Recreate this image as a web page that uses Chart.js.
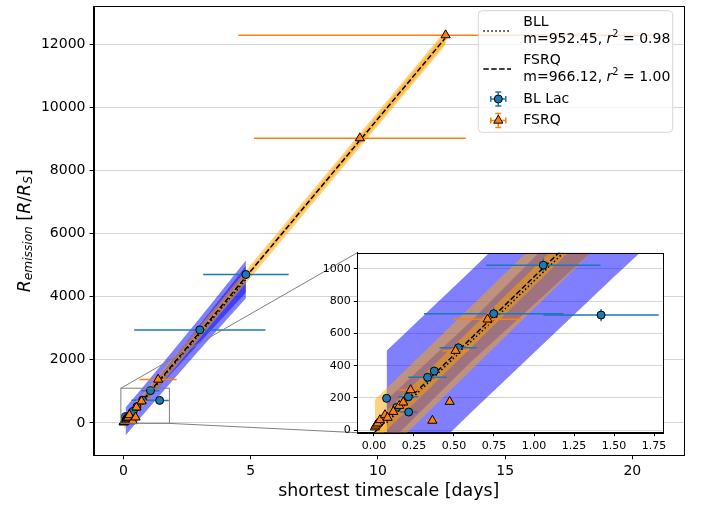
<!DOCTYPE html>
<html><head><meta charset="utf-8">
<script src="https://cdn.jsdelivr.net/npm/chart.js@4"></script>
<style>
html,body{margin:0;padding:0;background:#fff;}
#wrap{position:relative;width:701px;height:506px;overflow:hidden;}
#main{position:absolute;left:0;top:0;}
#inset{position:absolute;left:320px;top:244px;}
</style></head><body>
<div id="wrap"><canvas id="main" width="701" height="506"></canvas><canvas id="inset" width="370" height="222"></canvas></div>
<script>
// ---------------- data ----------------
const bllX    = [0.079, 0.142, 0.215, 0.217, 0.335, 0.377, 0.527, 0.748, 1.058, 1.419, 3.00, 4.81];
const bllY    = [198, 142, 208, 113, 328, 367, 511, 722, 1023, 714, 2950, 4705];
const bllXerr = [0.01, 0.03, 0.062, 0.054, 0.12, 0.02, 0.117, 0.435, 0.357, 0.36, 2.58, 1.68];
const bllYerr = [22, 18, 22, 18, 28, 28, 32, 38, 42, 38, 80, 120];

const fsrqX    = [0.006, 0.012, 0.023, 0.0375, 0.069, 0.085, 0.121, 0.158, 0.183, 0.229, 0.365, 0.473, 0.51, 0.71, 1.36, 9.29, 12.66];
const fsrqY    = [19, 30, 43, 64, 95, 78, 115, 152, 173, 249, 60, 177, 493, 687, 1376, 9030, 12296];
const fsrqXerr = [0.005, 0.008, 0.01, 0.012, 0.015, 0.02, 0.025, 0.03, 0.03, 0.075, 0.04, 0.01, 0.083, 0.213, 0.73, 4.16, 8.15];
const fsrqYerr = [8, 10, 10, 12, 14, 12, 15, 18, 20, 25, 15, 20, 30, 40, 60, 120, 150];

const fitNames      = ['BLL', 'FSRQ'];
const fitSlopes     = [952.45, 966.12];
const fitIntercepts = [-28, -16];
const fitR2         = ['0.98', '1.00'];
const fitXStart     = [0.079, 0.006];
const fitXEnd       = [4.81, 12.66];

const bllBandX     = [0.079, 0.6, 1.5, 3.0, 4.81];
const bllPredHalf  = [445, 440, 450, 500, 600];
const bllConfHalf  = [140, 125, 170, 280, 420];
const fsrqBandX    = [0.006, 1.5, 5, 9.29, 12.66];
const fsrqPredHalf = [200, 195, 200, 215, 235];
const fsrqConfHalf = [60, 55, 80, 120, 160];

const mainXTicks  = [0, 5, 10, 15, 20];
const mainYTicks  = [0, 2000, 4000, 6000, 8000, 10000, 12000];
const insetXTicks = [0, 0.25, 0.5, 0.75, 1.0, 1.25, 1.5, 1.75];
const insetYTicks = [0, 200, 400, 600, 800, 1000];
const mainXRange = [-1.18, 22.03], mainYRange = [-1027, 13210];
const insetXRange = [-0.104, 1.804], insetYRange = [-15, 1100];

const seriesNames = ['BL Lac', 'FSRQ'];
const xTitle = 'shortest timescale [days]';

// ---------------- layout constants ----------------
const INSET = {left:357.3, top:252.7, right:662.7, bottom:432.7};
const INSET_CANVAS = {left:320, top:244, width:370, height:222};
const FONT = '"DejaVu Sans", sans-serif';
const C0 = '#1f77b4', C1 = '#ff7f0e';
const BLUE_A = 'rgba(0,0,255,0.5)', ORANGE_A = 'rgba(255,165,0,0.5)';

Chart.defaults.font.family = FONT;
Chart.defaults.color = '#000';

function pts(xs, ys){ return xs.map((x,i)=>({x, y: ys[i]})); }
function edge(xs, k, half, sign){ return xs.map((x,i)=>({x, y: fitSlopes[k]*x + fitIntercepts[k] + sign*half[i]})); }
function fitLine(k){ return [fitXStart[k], fitXEnd[k]].map(x=>({x, y: fitSlopes[k]*x + fitIntercepts[k]})); }
function fixedTicks(list){ return function(scale){ scale.ticks = list.map(v=>({value:v})); }; }
function fixSize(prop, val){
  return function(s){ s[prop] = val; s.paddingTop = 0; s.paddingBottom = 0; s.paddingLeft = 0; s.paddingRight = 0; };
}

function bandPair(xs, k, half, color, order){
  const base = {showLine:true, pointRadius:0, pointHoverRadius:0, borderWidth:0, borderColor:'rgba(0,0,0,0)', tension:0, order, clip:0};
  return [
    Object.assign({}, base, {data: edge(xs, k, half, -1), fill:false}),
    Object.assign({}, base, {data: edge(xs, k, half, +1), fill:'-1', backgroundColor: color})
  ];
}

function buildDatasets(r){
  return [
    ...bandPair(bllBandX, 0, bllPredHalf, BLUE_A, 100),
    ...bandPair(bllBandX, 0, bllConfHalf, BLUE_A, 90),
    ...bandPair(fsrqBandX, 1, fsrqPredHalf, ORANGE_A, 80),
    ...bandPair(fsrqBandX, 1, fsrqConfHalf, ORANGE_A, 70),
    {data: fitLine(0), showLine:true, pointRadius:0, borderColor:'#000', borderWidth:1.5, borderDash:[1.5,2.5], fill:false, order:50, clip:0},
    {data: fitLine(1), showLine:true, pointRadius:0, borderColor:'#000', borderWidth:1.5, borderDash:[5.5,2.4], fill:false, order:49, clip:0},
    {data: pts(bllX, bllY), showLine:false, pointStyle:'circle', pointRadius:r, pointBackgroundColor:C0, pointBorderColor:'#000', pointBorderWidth:1, errX:bllXerr, errY:bllYerr, errColor:C0, order:20, fill:false},
    {data: pts(fsrqX, fsrqY), showLine:false, pointStyle:'triangle', pointRadius:r+1.3, pointBackgroundColor:C1, pointBorderColor:'#000', pointBorderWidth:1, errX:fsrqXerr, errY:fsrqYerr, errColor:C1, order:10, fill:false}
  ];
}

const errorBarPlugin = {
  id:'errbars',
  beforeDatasetDraw(chart, args){
    const ds = chart.data.datasets[args.index];
    if (!ds.errX) return;
    const {ctx, chartArea:a, scales:{x, y}} = chart;
    ctx.save();
    ctx.beginPath(); ctx.rect(a.left, a.top, a.width, a.height); ctx.clip();
    ctx.strokeStyle = ds.errColor; ctx.lineWidth = 1.5;
    ds.data.forEach((p,i)=>{
      const px = x.getPixelForValue(p.x), py = y.getPixelForValue(p.y);
      ctx.beginPath();
      ctx.moveTo(x.getPixelForValue(p.x - ds.errX[i]), py);
      ctx.lineTo(x.getPixelForValue(p.x + ds.errX[i]), py);
      ctx.moveTo(px, y.getPixelForValue(p.y - ds.errY[i]));
      ctx.lineTo(px, y.getPixelForValue(p.y + ds.errY[i]));
      ctx.stroke();
    });
    ctx.restore();
  }
};

const framePlugin = {
  id:'frame',
  afterDraw(chart){
    const {ctx, chartArea:a} = chart;
    ctx.save(); ctx.strokeStyle = '#000'; ctx.lineWidth = 1;
    ctx.strokeRect(Math.round(a.left)+0.5, Math.round(a.top)+0.5, Math.round(a.right)-Math.round(a.left), Math.round(a.bottom)-Math.round(a.top));
    ctx.restore();
  }
};

const whiteBgPlugin = {
  id:'whitebg',
  beforeDraw(chart){
    const {ctx, chartArea:a} = chart;
    ctx.save(); ctx.fillStyle = '#fff'; ctx.fillRect(a.left, a.top, a.width, a.height); ctx.restore();
  }
};

const zoomIndicatorPlugin = {
  id:'zoomind',
  afterDatasetsDraw(chart){
    const {ctx, scales:{x, y}} = chart;
    const l = x.getPixelForValue(insetXRange[0]), r = x.getPixelForValue(insetXRange[1]);
    const t = y.getPixelForValue(insetYRange[1]), b = y.getPixelForValue(insetYRange[0]);
    ctx.save(); ctx.strokeStyle = '#7f7f7f'; ctx.lineWidth = 1;
    ctx.strokeRect(l, t, r-l, b-t);
    ctx.beginPath();
    ctx.moveTo(l, t); ctx.lineTo(INSET.left, INSET.top);
    ctx.moveTo(r, b); ctx.lineTo(INSET.left, INSET.bottom);
    ctx.stroke();
    ctx.restore();
  }
};

function drawRuns(ctx, runs, x, y){
  let cx = x;
  runs.forEach(rn=>{
    ctx.font = rn.f;
    ctx.fillText(rn.t, cx, y + (rn.dy||0));
    cx += ctx.measureText(rn.t).width;
  });
  return cx - x;
}
function runsWidth(ctx, runs){
  let w = 0; runs.forEach(rn=>{ ctx.font = rn.f; w += ctx.measureText(rn.t).width; }); return w;
}

const yTitlePlugin = {
  id:'ytitle',
  afterDraw(chart){
    const {ctx, chartArea:a} = chart;
    const b = 17.4, s = 12.2;
    const runs = [
      {t:'R', f:`italic ${b}px ${FONT}`},
      {t:'emission', f:`italic ${s}px ${FONT}`, dy:4},
      {t:' [', f:`${b}px ${FONT}`},
      {t:'R', f:`italic ${b}px ${FONT}`},
      {t:'/', f:`${b}px ${FONT}`},
      {t:'R', f:`italic ${b}px ${FONT}`},
      {t:'S', f:`italic ${s}px ${FONT}`, dy:4},
      {t:']', f:`${b}px ${FONT}`}
    ];
    ctx.save();
    ctx.translate(25, (a.top + a.bottom)/2);
    ctx.rotate(-Math.PI/2);
    ctx.fillStyle = '#000'; ctx.textBaseline = 'middle'; ctx.textAlign = 'left';
    const w = runsWidth(ctx, runs);
    drawRuns(ctx, runs, -w/2, 0);
    ctx.restore();
  }
};

function drawErrHandle(ctx, cx, cy, color, style){
  ctx.save();
  ctx.strokeStyle = color; ctx.lineWidth = 1.5;
  ctx.beginPath();
  ctx.moveTo(cx-7.5, cy); ctx.lineTo(cx+7.5, cy);
  ctx.moveTo(cx-7.5, cy-3); ctx.lineTo(cx-7.5, cy+3);
  ctx.moveTo(cx+7.5, cy-3); ctx.lineTo(cx+7.5, cy+3);
  ctx.moveTo(cx, cy-7); ctx.lineTo(cx, cy+7);
  ctx.moveTo(cx-3, cy-7); ctx.lineTo(cx+3, cy-7);
  ctx.moveTo(cx-3, cy+7); ctx.lineTo(cx+3, cy+7);
  ctx.stroke();
  ctx.fillStyle = color; ctx.strokeStyle = '#000'; ctx.lineWidth = 1;
  ctx.beginPath();
  if (style === 'circle') ctx.arc(cx, cy, 4, 0, Math.PI*2);
  else { const r = 5.3; ctx.moveTo(cx, cy-r); ctx.lineTo(cx+r*0.866, cy+r*0.5); ctx.lineTo(cx-r*0.866, cy+r*0.5); ctx.closePath(); }
  ctx.fill(); ctx.stroke();
  ctx.restore();
}

const legendPlugin = {
  id:'customLegend',
  afterDraw(chart){
    const ctx = chart.ctx;
    const L = {x:478.3, y:10.7, w:194.4, h:121.6, r:4};
    ctx.save();
    ctx.beginPath();
    ctx.roundRect(L.x, L.y, L.w, L.h, L.r);
    ctx.fillStyle = 'rgba(255,255,255,0.8)'; ctx.fill();
    ctx.strokeStyle = '#d6d6d6'; ctx.lineWidth = 1; ctx.stroke();
    const fs = 14, tx = 523.3;
    ctx.fillStyle = '#000'; ctx.textBaseline = 'middle'; ctx.textAlign = 'left';
    const rows = [[22.5, 39.3, 31], [60.3, 77.1, 69]];
    const dashes = [[1.5,2.5],[5.5,2.4]];
    fitNames.forEach((nm,k)=>{
      const [y1, y2, yh] = rows[k];
      ctx.save(); ctx.strokeStyle = '#000'; ctx.lineWidth = 1.5; ctx.setLineDash(dashes[k]);
      ctx.beginPath(); ctx.moveTo(483.3, yh); ctx.lineTo(511, yh); ctx.stroke(); ctx.restore();
      ctx.font = `${fs}px ${FONT}`; ctx.fillText(nm, tx, y1);
      drawRuns(ctx, [
        {t:`m=${fitSlopes[k].toFixed(2)}, `, f:`${fs}px ${FONT}`},
        {t:'r', f:`italic ${fs}px ${FONT}`},
        {t:'2', f:`${fs*0.7}px ${FONT}`, dy:-5},
        {t:' = ' + fitR2[k], f:`${fs}px ${FONT}`}
      ], tx, y2);
    });
    drawErrHandle(ctx, 498.3, 99, C0, 'circle');
    ctx.fillStyle = '#000'; ctx.font = `${fs}px ${FONT}`; ctx.fillText(seriesNames[0], tx, 99);
    drawErrHandle(ctx, 498.3, 120.5, C1, 'triangle');
    ctx.fillStyle = '#000'; ctx.font = `${fs}px ${FONT}`; ctx.fillText(seriesNames[1], tx, 120.5);
    ctx.restore();
  }
};

// ---------------- main chart ----------------
new Chart(document.getElementById('main'), {
  type:'line',
  data:{datasets: buildDatasets(4)},
  options:{
    responsive:false, animation:false, events:[],
    layout:{padding:{left:0, top:3.3, right:17, bottom:0}},
    plugins:{legend:{display:false}, tooltip:{enabled:false}},
    scales:{
      x:{type:'linear', min:mainXRange[0], max:mainXRange[1],
         afterFit: fixSize('height', 50.7),
         afterBuildTicks: fixedTicks(mainXTicks),
         ticks:{font:{size:14}, color:'#000', padding:4, maxRotation:0, autoSkip:false, callback:v=>String(v)},
         grid:{drawOnChartArea:false, drawTicks:true, tickLength:4, tickColor:'#000'},
         border:{display:true, color:'#000', width:1},
         title:{display:true, text:xTitle, font:{size:17.4}, color:'#000', padding:{top:0, bottom:3.9}}},
      y:{type:'linear', min:mainYRange[0], max:mainYRange[1],
         afterFit: fixSize('width', 93.5),
         afterBuildTicks: fixedTicks(mainYTicks),
         ticks:{font:{size:14}, color:'#000', padding:4, autoSkip:false, callback:v=>String(v)},
         grid:{color:'#d4d4d4', lineWidth:1, drawTicks:true, tickLength:4, tickColor:'#000'},
         border:{display:true, color:'#000', width:1}}
    }
  },
  plugins:[errorBarPlugin, zoomIndicatorPlugin, framePlugin, yTitlePlugin, legendPlugin]
});

// ---------------- inset chart ----------------
new Chart(document.getElementById('inset'), {
  type:'line',
  data:{datasets: buildDatasets(4)},
  options:{
    responsive:false, animation:false, events:[],
    layout:{padding:{left:0, top:INSET.top-INSET_CANVAS.top, right:INSET_CANVAS.width-(INSET.right-INSET_CANVAS.left), bottom:0}},
    plugins:{legend:{display:false}, tooltip:{enabled:false}},
    scales:{
      x:{type:'linear', min:insetXRange[0], max:insetXRange[1],
         afterFit: fixSize('height', INSET_CANVAS.height-(INSET.bottom-INSET_CANVAS.top)),
         afterBuildTicks: fixedTicks(insetXTicks),
         ticks:{font:{size:11}, color:'#000', padding:3, maxRotation:0, autoSkip:false, callback:v=>Number(v).toFixed(2)},
         grid:{drawOnChartArea:false, drawTicks:true, tickLength:3.5, tickColor:'#000'},
         border:{display:true, color:'#000', width:1}},
      y:{type:'linear', min:insetYRange[0], max:insetYRange[1],
         afterFit: fixSize('width', INSET.left-INSET_CANVAS.left),
         afterBuildTicks: fixedTicks(insetYTicks),
         ticks:{font:{size:11}, color:'#000', padding:3, autoSkip:false, callback:v=>String(v)},
         grid:{color:'#d4d4d4', lineWidth:1, drawTicks:true, tickLength:3.5, tickColor:'#000'},
         border:{display:true, color:'#000', width:1}}
    }
  },
  plugins:[whiteBgPlugin, errorBarPlugin, framePlugin]
});
</script>
</body></html>
